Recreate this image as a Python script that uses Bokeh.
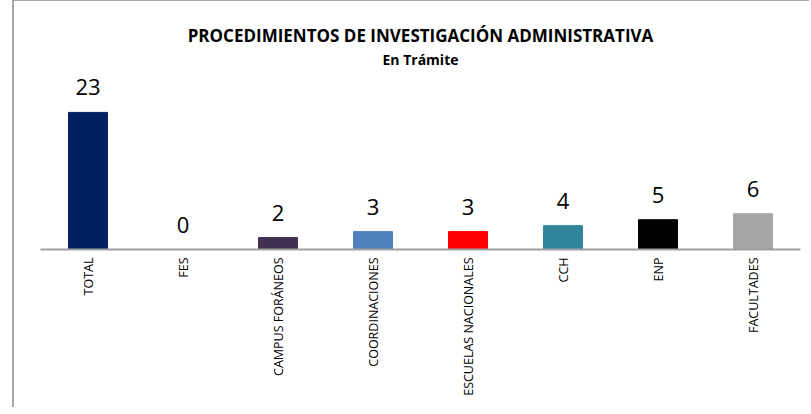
import math
from bokeh.plotting import figure
from bokeh.models import ColumnDataSource, Range1d, FixedTicker, Title
from bokeh.core.properties import value
from bokeh.embed import file_html
from bokeh.resources import INLINE

# ---- data ----
categories = ["TOTAL", "FES", "CAMPUS FORÁNEOS", "COORDINACIONES",
              "ESCUELAS NACIONALES", "CCH", "ENP", "FACULTADES"]
counts = [23, 0, 2, 3, 3, 4, 5, 6]
bar_colors = ["#002060", "#9BBB59", "#403152", "#4F81BD",
              "#FF0000", "#31859C", "#000000", "#A6A6A6"]
title_text = "PROCEDIMIENTOS DE INVESTIGACIÓN ADMINISTRATIVA"
subtitle_text = "En Trámite"

positions = list(range(len(categories)))
source = ColumnDataSource(dict(
    x=positions,
    y=counts,
    label=[str(v) for v in counts],
    color=bar_colors,
))

p = figure(width=797, height=408, output_backend="svg", toolbar_location=None,
           x_range=Range1d(-0.5, len(categories) - 0.5),
           y_range=Range1d(0, 30.2),
           min_border_left=26, min_border_right=11,
           min_border_top=68, min_border_bottom=160,
           title=None)
p.styles = {"margin-left": "12px", "margin-top": "-1px",
            "border-left": "2px solid #A6A6A6", "border-top": "2px solid #A6A6A6"}

p.vbar(x="x", top="y", bottom=0, width=0.41, color="color", source=source)
p.text(x="x", y="y", text="label", source=source,
       text_font=value("Open Sans"), text_font_size="22px",
       text_align="center", text_baseline="middle", y_offset=-25,
       text_color="#000000")

p.yaxis.visible = False
p.xgrid.visible = False
p.ygrid.visible = False
p.outline_line_color = None
p.background_fill_color = "white"
p.border_fill_color = "white"

xa = p.xaxis[0]
xa.ticker = FixedTicker(ticks=positions)
xa.major_label_overrides = {i: c for i, c in enumerate(categories)}
xa.major_label_orientation = math.pi / 2
xa.major_label_text_font = "Open Sans"
xa.major_label_text_font_size = "12.5px"
xa.major_label_text_color = "#000000"
xa.major_label_standoff = 2
xa.major_tick_line_color = None
xa.minor_tick_line_color = None
xa.axis_line_color = "#A0A0A0"
xa.axis_line_width = 2

sub = Title(text=subtitle_text, align="center", text_font="Open Sans",
            text_font_size="14px", text_font_style="bold", text_color="#000000",
            standoff=1)
p.add_layout(sub, "above")
main = Title(text=title_text, align="center", text_font="Open Sans",
             text_font_size="17px", text_font_style="bold", text_color="#000000",
             standoff=1)
p.add_layout(main, "above")

open("out.html", "w").write(file_html(p, INLINE))
